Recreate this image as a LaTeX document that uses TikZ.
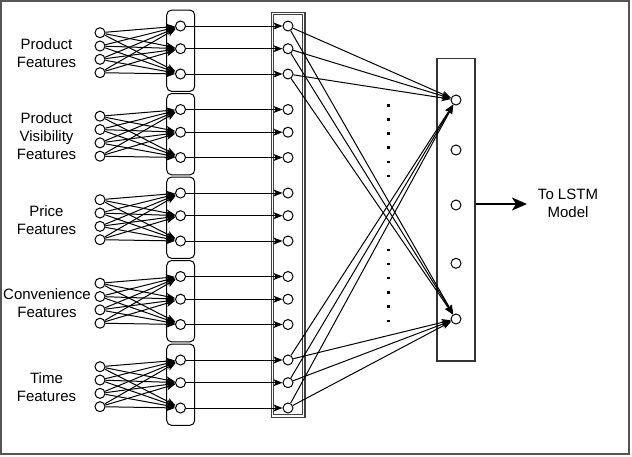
\documentclass[tikz,border=0pt]{standalone}
\usepackage{fontspec}
\setmainfont{Liberation Sans}
\usetikzlibrary{arrows.meta}
\definecolor{framegray}{HTML}{555555}
\begin{document}
\begin{tikzpicture}[x=1pt,y=-1pt,
  neuron/.style={circle,draw,fill=white,minimum size=10pt,inner sep=0pt,line width=1pt},
  conn/.style={-{Stealth[length=9pt,width=7pt,inset=2.2pt]},line width=1pt},
  bigarrow/.style={-{Stealth[length=15pt,width=13pt,inset=4pt]},line width=2.4pt},
  lbl/.style={align=center,font=\fontsize{15}{18}\selectfont},
  hbox/.style={draw,rounded corners=5pt,line width=1pt,minimum width=28pt,minimum height=81.4pt,inner sep=0pt},
  colbox/.style={draw=black!75,double=white,double distance=1.4pt,line width=1.1pt,minimum width=31.4pt,minimum height=402.8pt,inner sep=0pt},
  outbox/.style={draw=black!80,line width=1.1pt,minimum width=38pt,minimum height=302.7pt,inner sep=0pt},
  frame/.style={draw=framegray,line width=1.3pt},
  dotmark/.style={fill=black}]
\useasboundingbox (0,0) rectangle (632,456);
\draw[frame] (1,1) rectangle (629,454);
% column and output boxes
\node[colbox] (col) at (288,214.7) {};
\node[outbox] (obox) at (456,209.65) {};
% labels
\node[lbl] (lab1) at (46.5,52.7) {Product\\Features};
\node[lbl] (lab2) at (46.5,136.2) {Product\\Visibility\\Features};
\node[lbl] (lab3) at (46.5,219.7) {Price\\Features};
\node[lbl] (lab4) at (47,303.2) {Convenience\\Features};
\node[lbl] (lab5) at (46.5,386.7) {Time\\Features};
% groups
\foreach \g in {1,...,5}{
  \pgfmathsetmacro\b{32.7+(\g-1)*83.5}
  \node[hbox] (box\g) at (180.7,\b+18) {};
  \foreach \i in {1,...,4}{
    \node[neuron] (in\g-\i) at (100,\b+\i*13.33-13.33) {};
  }
  \foreach \j/\o in {1/-6.7,2/16,3/41.3}{
    \node[neuron] (h\g-\j) at (180.5,\b+\o) {};
    \node[neuron] (c\g-\j) at (288,\b+\o) {};
    \draw[conn] (h\g-\j) -- (c\g-\j);
  }
  \foreach \j in {1,2,3}{
    \foreach \i in {1,...,4}{
      \draw[conn] (in\g-\i) -- (h\g-\j);
    }
  }
}
% output neurons
\foreach \k/\y in {1/100,2/150,3/205,4/263.3,5/319}{
  \node[neuron] (out\k) at (456,\y) {};
}
% dots
\foreach \y in {105.3,119.4,133.5,147.6,161.8,176,250,264.1,278.2,292.4,306.5,320.7}{
  \fill[dotmark] (387.1,\y-1.2) rectangle ++(2.4,2.4);
}
% column -> output
\foreach \g in {1,5}{
  \foreach \j in {1,2,3}{
    \draw[conn] (c\g-\j) -- (out1);
    \draw[conn] (c\g-\j) -- (out5);
  }
}
% to LSTM
\coordinate (lstm) at (527,204);
\draw[bigarrow] (obox.east |- lstm) -- (lstm);
\node[lbl] (lstmlab) at (568,203) {To LSTM\\Model};
\end{tikzpicture}
\end{document}
